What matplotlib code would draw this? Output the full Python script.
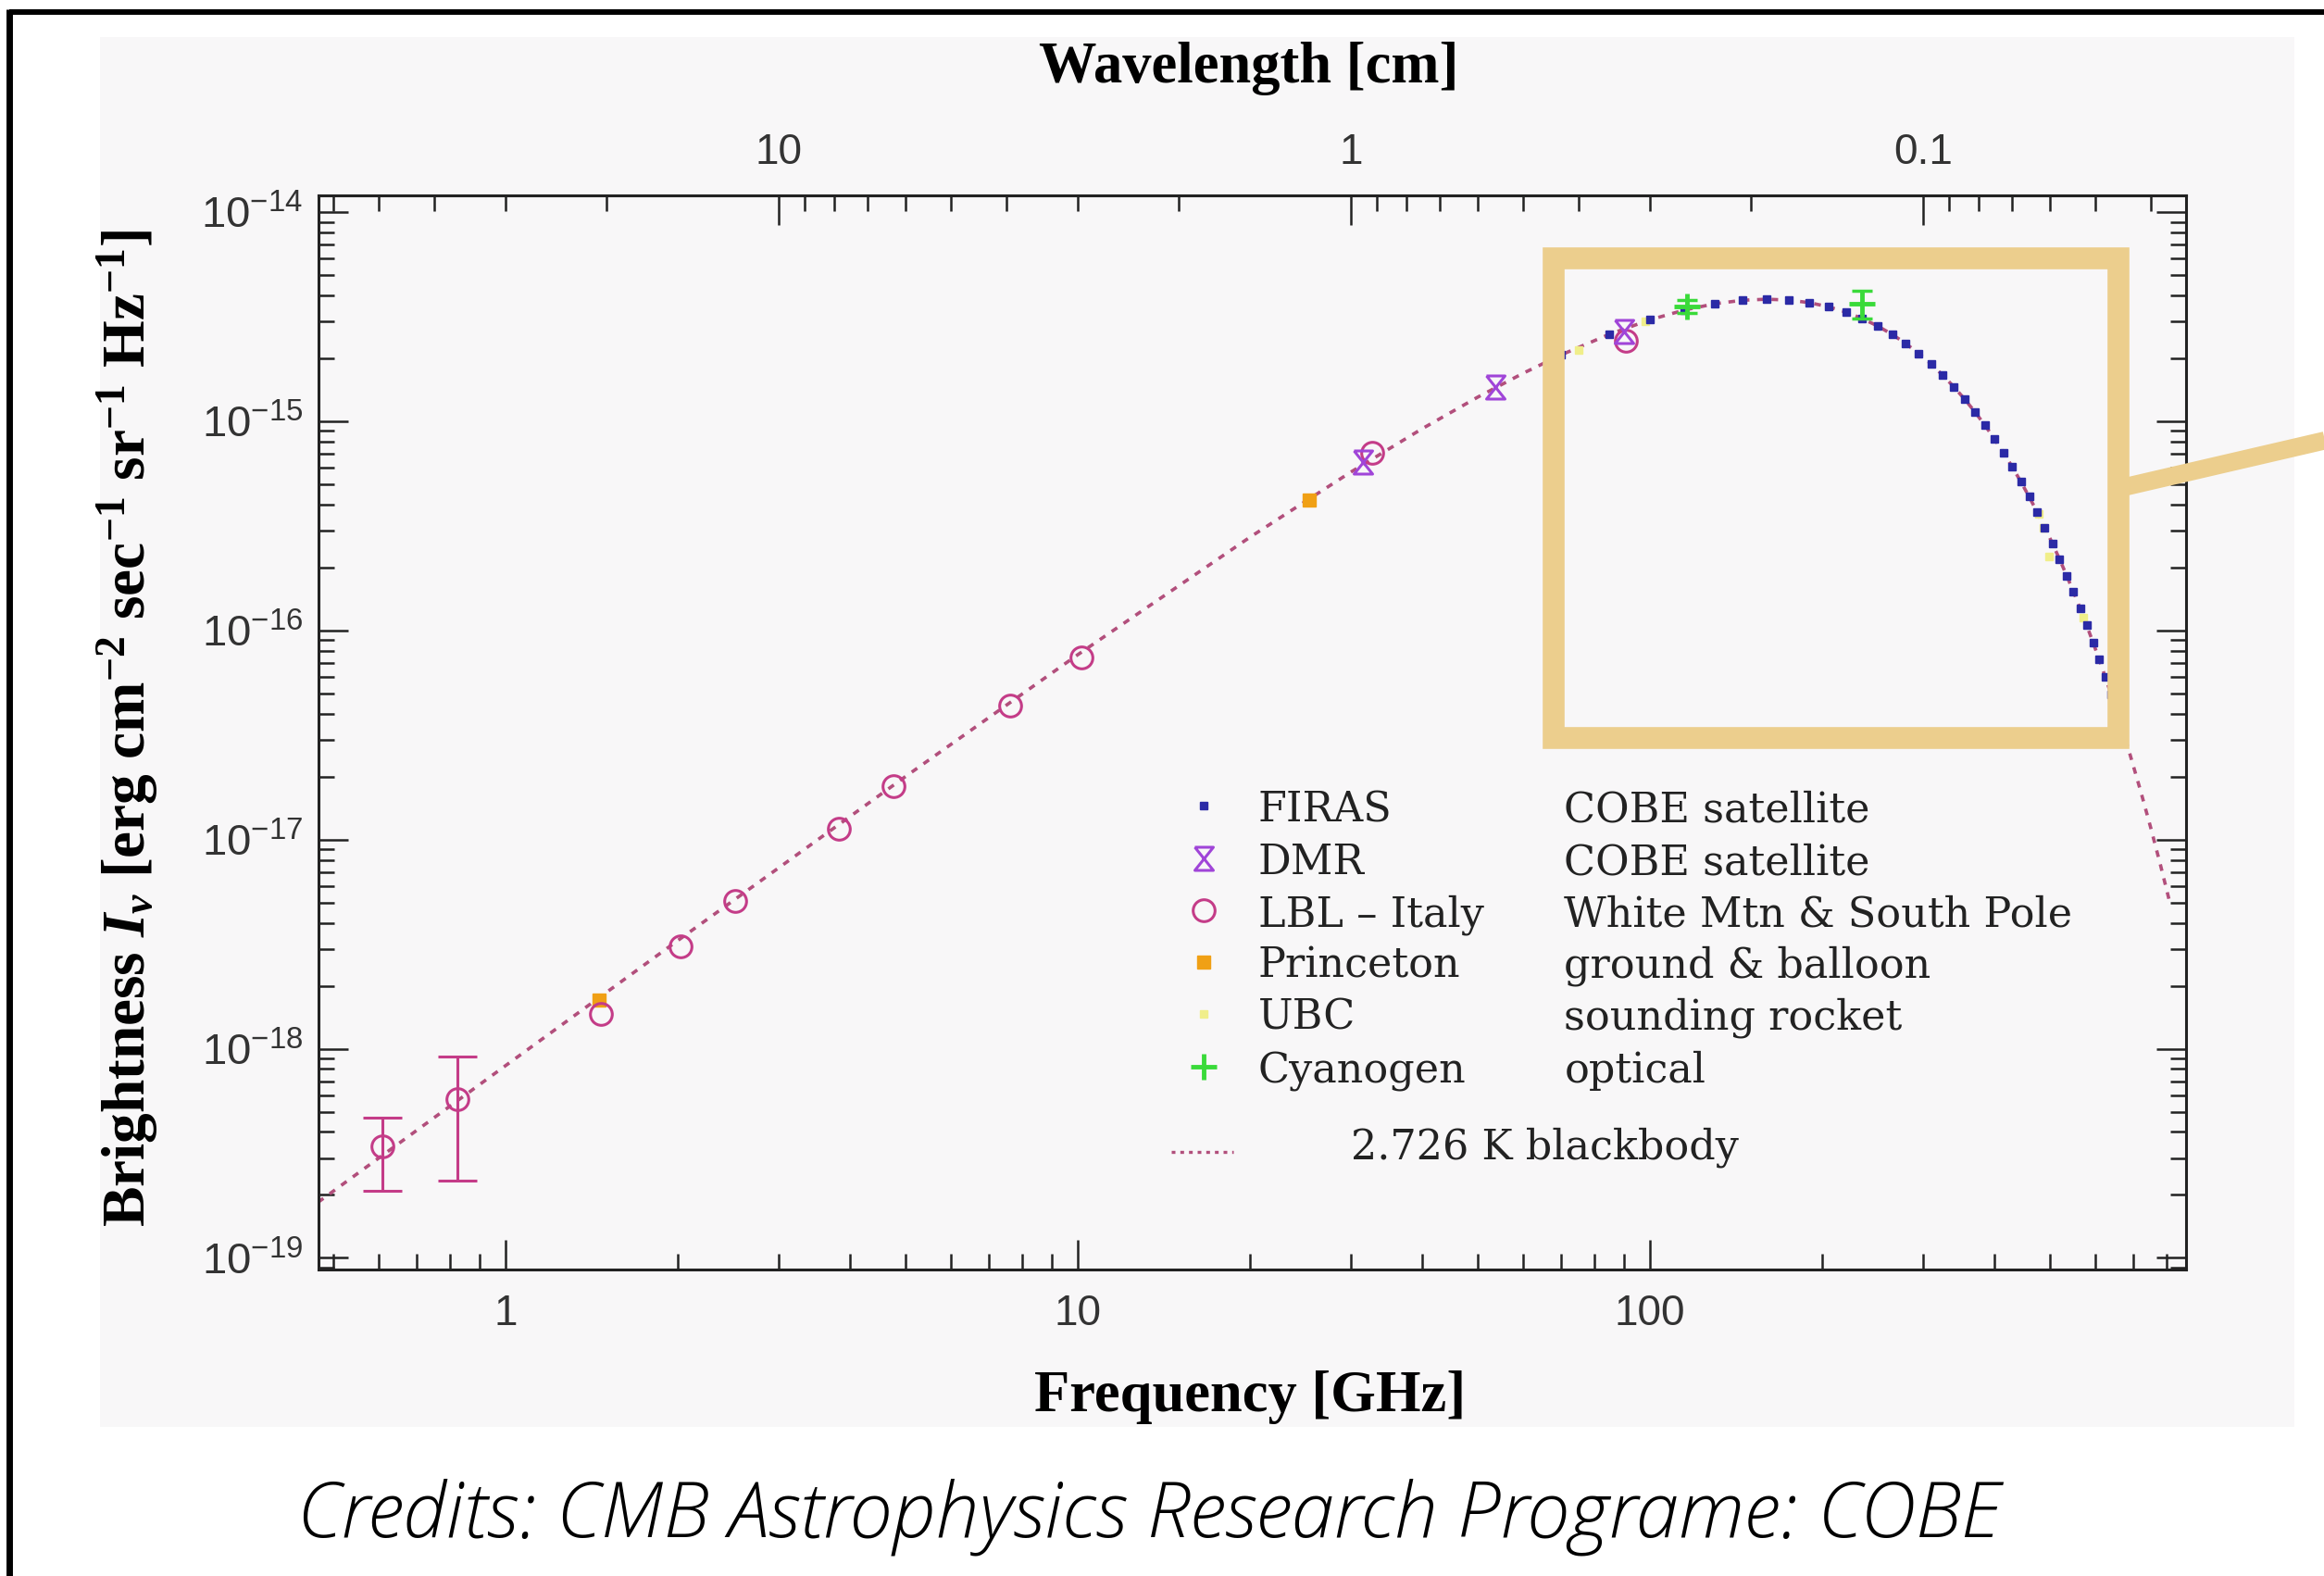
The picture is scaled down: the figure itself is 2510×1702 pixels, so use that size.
import numpy as np
import matplotlib
matplotlib.use('Agg')
import matplotlib.pyplot as plt
from matplotlib.patches import Rectangle
from matplotlib.lines import Line2D
from matplotlib.ticker import FixedLocator, FixedFormatter, LogLocator, NullFormatter

# ------------------------------------------------------------------ data
# 2.726 K blackbody curve (frequency GHz, brightness erg cm^-2 s^-1 sr^-1 Hz^-1)
bb_freq = [0.47, 1, 2, 5, 10, 20, 30, 40, 50, 60,
           70, 85, 100, 115, 130, 145, 160, 175, 190, 205, 220, 235, 250, 265,
           280, 295, 310, 325, 340, 355, 370, 385, 400, 415, 430, 445, 460, 475,
           490, 505, 520, 535, 550, 565, 580, 595, 610, 625, 640,
           660, 690, 720, 750, 780, 810]
bb_bright = [1.842e-19, 8.30e-19, 3.292e-18, 2.003e-17, 7.66e-17, 2.795e-16, 5.721e-16, 9.231e-16, 1.306e-15, 1.698e-15,
             2.082e-15, 2.6125e-15, 3.062e-15, 3.4115e-15, 3.655e-15, 3.796e-15, 3.841e-15, 3.803e-15, 3.697e-15, 3.535e-15,
             3.334e-15, 3.105e-15, 2.860e-15, 2.608e-15,
             2.357e-15, 2.113e-15, 1.881e-15, 1.662e-15, 1.4605e-15, 1.276e-15, 1.109e-15, 9.589e-16, 8.256e-16, 7.078e-16,
             6.045e-16, 5.144e-16, 4.363e-16, 3.689e-16,
             3.109e-16, 2.614e-16, 2.191e-16, 1.832e-16, 1.529e-16, 1.273e-16, 1.057e-16, 8.765e-17, 7.252e-17, 5.990e-17, 4.939e-17,
             3.811e-17, 2.567e-17, 1.720e-17, 1.146e-17, 7.604e-18, 5.022e-18]

firas_freq = [70, 85, 100, 115, 130, 145, 160, 175, 190, 205, 220, 235, 250, 265,
              280, 295, 310, 325, 340, 355, 370, 385, 400, 415, 430, 445, 460, 475,
              490, 505, 520, 535, 550, 565, 580, 595, 610, 625, 640]
firas_bright = [2.082e-15, 2.6125e-15, 3.062e-15, 3.4115e-15, 3.655e-15, 3.796e-15, 3.841e-15, 3.803e-15, 3.697e-15, 3.535e-15,
                3.334e-15, 3.105e-15, 2.860e-15, 2.608e-15,
                2.357e-15, 2.113e-15, 1.881e-15, 1.662e-15, 1.4605e-15, 1.276e-15, 1.109e-15, 9.589e-16, 8.256e-16, 7.078e-16,
                6.045e-16, 5.144e-16, 4.363e-16, 3.689e-16,
                3.109e-16, 2.614e-16, 2.191e-16, 1.832e-16, 1.529e-16, 1.273e-16, 1.057e-16, 8.765e-17, 7.252e-17, 5.990e-17, 4.939e-17]

dmr_freq = [31.5, 53.6, 90.0]
dmr_bright = [6.40e-16, 1.457e-15, 2.69e-15]

lbl_freq = [0.61, 0.825, 1.47, 2.02, 2.52, 3.82, 4.76, 7.63, 10.15, 32.7, 90.8]
lbl_bright = [3.40e-19, 5.75e-19, 1.466e-18, 3.10e-18, 5.07e-18, 1.13e-17, 1.80e-17, 4.38e-17, 7.43e-17, 7.11e-16, 2.42e-15]
lbl_err = [1.3e-19, 3.4e-19, 0, 0, 0, 0, 0, 0, 0, 0, 0]

princeton_freq = [1.455, 25.4]
princeton_bright = [1.708e-18, 4.19e-16]

ubc_freq = [75, 98, 478, 487, 499, 572]
ubc_bright = [2.2e-15, 3.0e-15, 3.6e-16, 3.1e-16, 2.25e-16, 1.15e-16]

cyan_freq = [116, 235]
cyan_bright = [3.55e-15, 3.65e-15]
cyan_err = [0.25e-15, 0.55e-15]

series_names = ['FIRAS', 'DMR', 'LBL \u2013 Italy', 'Princeton', 'UBC', 'Cyanogen']
series_desc = ['COBE satellite', 'COBE satellite', 'White Mtn & South Pole',
               'ground & balloon', 'sounding rocket', 'optical']
curve_label = '2.726 K blackbody'

freq_ticks = [1, 10, 100]
freq_tick_labels = ['1', '10', '100']
wl_ticks = [10, 1, 0.1]
wl_tick_labels = ['10', '1', '0.1']
y_ticks = [1e-19, 1e-18, 1e-17, 1e-16, 1e-15, 1e-14]
y_tick_labels = [r'$\mathregular{10^{-19}}$', r'$\mathregular{10^{-18}}$', r'$\mathregular{10^{-17}}$',
                 r'$\mathregular{10^{-16}}$', r'$\mathregular{10^{-15}}$', r'$\mathregular{10^{-14}}$']

credit_text = 'Credits: CMB Astrophysics Research Programe: COBE'

# ------------------------------------------------------------------ style
plt.rcParams['font.family'] = ['Liberation Sans', 'DejaVu Sans']
plt.rcParams['mathtext.fontset'] = 'custom'
plt.rcParams['mathtext.rm'] = 'Liberation Serif:bold'
plt.rcParams['mathtext.it'] = 'Liberation Serif:italic:bold'
plt.rcParams['mathtext.bf'] = 'Liberation Serif:bold'

W, H = 2510, 1702
fig = plt.figure(figsize=(W / 100, H / 100), dpi=100)
fig.patch.set_facecolor('white')


def fx(px):
    return px / W


def fy(py):
    return 1 - py / H


# light grey backdrop of the pasted chart image
fig.add_artist(Rectangle((fx(108), fy(1541)), fx(2478) - fx(108), fy(40) - fy(1541),
                         transform=fig.transFigure, facecolor='#f8f7f8', edgecolor='none', zorder=-5))
# black outer frame (top + left)
fig.add_artist(Line2D([fx(9.5), 1.01], [fy(12.5), fy(12.5)], transform=fig.transFigure,
                      color='black', lw=4.3, solid_capstyle='butt', zorder=20))
fig.add_artist(Line2D([fx(9.5), fx(9.5)], [fy(10), -0.01], transform=fig.transFigure,
                      color='black', lw=5.0, solid_capstyle='butt', zorder=20))

ax = fig.add_axes([fx(344), fy(1371), fx(2361) - fx(344), fy(211) - fy(1371)])
ax.set_facecolor('none')
ax.set_xscale('log')
ax.set_yscale('log')
ax.set_xlim(0.471, 865)
ax.set_ylim(8.79e-20, 1.205e-14)

bb_color = '#b24f7c'
firas_c = '#2b2aa6'
dmr_c = '#a045d8'
lbl_c = '#c43c88'
prin_c = '#f0a015'
ubc_c = '#f0ee8a'
cyan_c = '#3ada3a'

hourglass = [(-0.8, 1), (0.8, 1), (-0.8, -1), (0.8, -1), (-0.8, 1)]

ax.plot(bb_freq, bb_bright, color=bb_color, lw=2.6, ls=(0, (2, 2.3)), zorder=2)
ax.plot(ubc_freq, ubc_bright, ls='none', marker='s', ms=6, mfc=ubc_c, mec=ubc_c, zorder=3)
ax.plot(firas_freq, firas_bright, ls='none', marker='s', ms=5.5, mfc=firas_c, mec=firas_c, zorder=4)
ax.plot(princeton_freq, princeton_bright, ls='none', marker='s', ms=10, mfc=prin_c, mec=prin_c, zorder=4)
ax.plot(lbl_freq, lbl_bright, ls='none', marker='o', ms=17, mfc='none', mec=lbl_c, mew=2.2, zorder=5)
lf = np.array(lbl_freq)
lb = np.array(lbl_bright)
le = np.array(lbl_err)
m = le > 0
ax.errorbar(lf[m], lb[m], yerr=le[m], fmt='none', ecolor=lbl_c, elinewidth=2.2,
            capsize=15, capthick=2.2, zorder=5)
ax.plot(dmr_freq, dmr_bright, ls='none', marker=hourglass, ms=18, mfc='none', mec=dmr_c, mew=2.2, zorder=6)
ax.errorbar(cyan_freq, cyan_bright, yerr=cyan_err, fmt='none', ecolor=cyan_c, elinewidth=2.5,
            capsize=8, capthick=2.5, zorder=6)
ax.plot(cyan_freq, cyan_bright, ls='none', marker='+', ms=20, mec=cyan_c, mew=3.5, zorder=7)

# ticks
ax.xaxis.set_major_locator(FixedLocator(freq_ticks))
ax.xaxis.set_major_formatter(FixedFormatter(freq_tick_labels))
ax.xaxis.set_minor_locator(LogLocator(base=10, subs=tuple(range(2, 10)), numticks=50))
ax.xaxis.set_minor_formatter(NullFormatter())
ax.yaxis.set_major_locator(FixedLocator(y_ticks))
ax.yaxis.set_major_formatter(FixedFormatter(y_tick_labels))
ax.yaxis.set_minor_locator(LogLocator(base=10, subs=tuple(range(2, 10)), numticks=50))
ax.yaxis.set_minor_formatter(NullFormatter())
ax.tick_params(which='both', direction='in', top=False, bottom=True, left=True, right=True,
               width=1.8, color='#222222')
ax.tick_params(which='major', length=23)
ax.tick_params(which='minor', length=12)
ax.tick_params(axis='x', which='major', labelsize=33, pad=19, labelcolor='#333333')
ax.tick_params(axis='y', which='major', labelsize=34, pad=12, labelcolor='#333333')
for s in ax.spines.values():
    s.set_linewidth(2.2)
    s.set_color('#222222')

secax = ax.secondary_xaxis('top', functions=(lambda nu: 30.0 / np.asarray(nu, dtype=float),
                                             lambda lam: 30.0 / np.asarray(lam, dtype=float)))
secax.xaxis.set_major_locator(FixedLocator(wl_ticks))
secax.xaxis.set_major_formatter(FixedFormatter(wl_tick_labels))
secax.xaxis.set_minor_locator(LogLocator(base=10, subs=tuple(range(2, 10)), numticks=50))
secax.xaxis.set_minor_formatter(NullFormatter())
secax.tick_params(which='both', direction='in', width=1.8, color='#222222')
secax.tick_params(which='major', length=23, labelsize=33, pad=17, labelcolor='#333333')
secax.tick_params(which='minor', length=12)
for s in secax.spines.values():
    s.set_linewidth(2.2)
    s.set_color('#222222')

serif_bold = dict(fontfamily=['Liberation Serif', 'DejaVu Serif'], fontweight='bold', fontsize=45)
ax.set_xlabel('Frequency [GHz]', **serif_bold)
ax.xaxis.set_label_coords(0.4988, -0.119, transform=ax.transAxes)
ax.xaxis.label.set_verticalalignment('center')
secax.set_xlabel('Wavelength [cm]', **serif_bold)
secax.xaxis.set_label_coords(0.4983, 1.118, transform=ax.transAxes)
secax.xaxis.label.set_verticalalignment('center')
ax.set_ylabel(r'Brightness $\mathit{I}_{\nu}$ [erg cm$^{-2}$ sec$^{-1}$ sr$^{-1}$ Hz$^{-1}$]',
              fontfamily=['Liberation Serif', 'DejaVu Serif'], fontweight='bold', fontsize=47)
ax.yaxis.set_label_coords(-0.1023, 0.5043, transform=ax.transAxes)
ax.yaxis.label.set_verticalalignment('center')

# legend (two text columns)
leg_font = dict(fontfamily=['DejaVu Serif'], fontsize=32, color='#222222', va='baseline', transform=ax.transAxes)
row_base = [0.4172, 0.3681, 0.3198, 0.2716, 0.2233, 0.1741]
leg_styles = [
    dict(marker='s', ms=5.5, mfc=firas_c, mec=firas_c),
    dict(marker=hourglass, ms=18, mfc='none', mec=dmr_c, mew=2.2),
    dict(marker='o', ms=17, mfc='none', mec=lbl_c, mew=2.2),
    dict(marker='s', ms=10, mfc=prin_c, mec=prin_c),
    dict(marker='s', ms=6, mfc=ubc_c, mec=ubc_c),
    dict(marker='+', ms=20, mec=cyan_c, mew=3.5),
]
for yb, name, desc, st in zip(row_base, series_names, series_desc, leg_styles):
    ax.plot([0.4741], [yb + 0.015], ls='none', transform=ax.transAxes, clip_on=False, **st)
    ax.text(0.5031, yb, name, **leg_font)
    ax.text(0.667, yb, desc, **leg_font)
ax.plot([0.4566, 0.4898], [0.1095, 0.1095], transform=ax.transAxes, color=bb_color, lw=2.4,
        ls=(0, (1.2, 1.6)), clip_on=False)
ax.text(0.5528, 0.1026, curve_label, **leg_font)

# highlight box and connector
gold = '#ecce8d'
fig.add_artist(Rectangle((fx(1677.5), fy(797)), fx(2288) - fx(1677.5), fy(278.7) - fy(797),
                         transform=fig.transFigure, facecolor='none', edgecolor=gold, lw=17,
                         joinstyle='miter', zorder=15))
fig.add_artist(Line2D([fx(2290), fx(2570)], [fy(527), fy(462)], transform=fig.transFigure,
                      color=gold, lw=14, solid_capstyle='butt', zorder=14))

fig.text(fx(1241), fy(1659), credit_text, ha='center', va='baseline', fontsize=60,
         style='italic', fontweight='light', fontfamily=['Open Sans', 'Lato', 'DejaVu Sans'], color='#000000')

fig.savefig('out.png', dpi=100)
